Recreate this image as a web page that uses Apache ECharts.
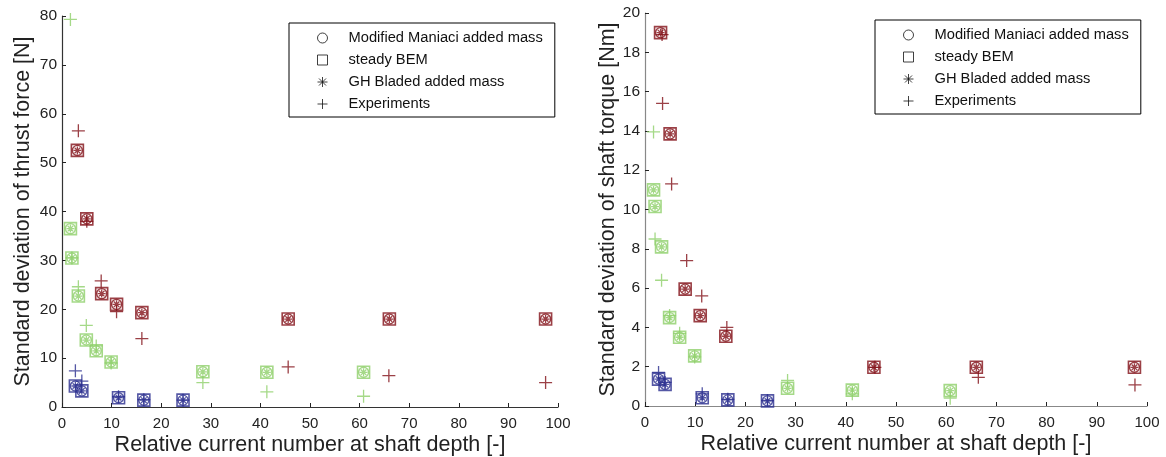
<!DOCTYPE html>
<html>
<head>
<meta charset="utf-8">
<script src="https://cdn.jsdelivr.net/npm/echarts@6/dist/echarts.min.js"></script>
<style>
html,body{margin:0;padding:0;background:#fff;}
#c{width:1166px;height:457px;}
</style>
</head>
<body>
<div id="c"></div>
<script>
// ---------- data ----------
const legendNames = ['Modified Maniaci added mass', 'steady BEM', 'GH Bladed added mass', 'Experiments'];
const xTicks = [0, 10, 20, 30, 40, 50, 60, 70, 80, 90, 100];

// red case group
const redX        = [3.1, 5.0, 8.0, 11.0, 16.1, 45.6, 66.0, 97.5];
const redThrust   = [52.5, 38.5, 23.2, 21.0, 19.3, 18.0, 18.0, 18.0];
const redTorque   = [19.0, 13.85, 5.95, 4.6, 3.55, 1.97, 1.97, 1.97];
const redExpXT    = [3.3, 5.0, 7.9, 11.0, 16.1, 45.6, 65.9, 97.5];
const redExpThrust= [56.5, 38.0, 25.8, 19.5, 14.0, 8.2, 6.4, 5.0];
const redExpXQ    = [3.4, 3.5, 5.3, 8.3, 11.3, 16.3, 45.8, 66.4, 97.6];
const redExpTorque= [18.9, 15.4, 11.3, 7.4, 5.6, 4.0, 1.97, 1.46, 1.07];

// green case group
const greenX        = [1.7, 2.0, 3.3, 4.9, 6.9, 9.9, 28.4, 41.3, 60.8];
const greenThrust   = [36.5, 30.5, 22.7, 13.7, 11.5, 9.2, 7.2, 7.1, 7.1];
const greenTorque   = [11.0, 10.15, 8.1, 4.5, 3.5, 2.55, 0.9, 0.81, 0.78];
const greenExpThrust= [79.3, 30.5, 24.6, 16.7, 12.5, 9.0, 5.0, 3.1, 2.2];
const greenExpTorque= [13.95, 8.5, 6.4, 4.6, 3.7, 2.5, 1.3, 0.62, 0.4];

// blue case group
const blueX        = [2.7, 4.0, 11.4, 16.5, 24.4];
const blueThrust   = [4.3, 3.3, 1.9, 1.4, 1.4];
const blueTorque   = [1.37, 1.1, 0.42, 0.31, 0.26];
const blueExpThrust= [7.4, 5.3, 2.1, 1.5, 1.4];
const blueExpTorque= [1.71, 1.2, 0.62, 0.34, 0.28];

// ---------- styles ----------
const RED = '#821018', GREEN = '#8ed06a', BLUE = '#2b2e8e';
const SYM_PLUS = 'path://M0,6L12,6M6,0L6,12';
const SYM_STAR = 'path://M0,5L10,5M5,0L5,10M1.5,1.5L8.5,8.5M1.5,8.5L8.5,1.5';
const FONT = '"Liberation Sans", Arial, Helvetica, sans-serif';

function zip(xs, ys){ return xs.map((x,i)=>[x, ys[i]]); }

function markerSeries(id, axis, xs, ys, color, kind){
  const conf = {
    circle: {symbol:'circle', size:10, w:1.4},
    square: {symbol:'rect', size:12, w:1.6},
    star:   {symbol:SYM_STAR, size:8, w:1.3},
    plus:   {symbol:SYM_PLUS, size:13, w:1.3}
  }[kind];
  return {
    type:'scatter', name:id, xAxisIndex:axis, yAxisIndex:axis,
    data: zip(xs, ys), symbol: conf.symbol, symbolSize: conf.size,
    itemStyle:{color:'rgba(0,0,0,0)', borderColor:color, borderWidth:conf.w},
    emphasis:{disabled:true}, silent:true, animation:false
  };
}

const series = [];
function group(axis, tag, xs, model, expX, exp, color){
  series.push(markerSeries('sq-'+tag+axis, axis, xs, model, color, 'square'));
  series.push(markerSeries('ci-'+tag+axis, axis, xs, model, color, 'circle'));
  series.push(markerSeries('st-'+tag+axis, axis, xs, model, color, 'star'));
  series.push(markerSeries('pl-'+tag+axis, axis, expX, exp, color, 'plus'));
}
group(0, 'g', greenX, greenThrust, greenX, greenExpThrust, GREEN);
group(0, 'b', blueX, blueThrust, blueX, blueExpThrust, BLUE);
group(0, 'r', redX, redThrust, redExpXT, redExpThrust, RED);
group(1, 'g', greenX, greenTorque, greenX, greenExpTorque, GREEN);
group(1, 'b', blueX, blueTorque, blueX, blueExpTorque, BLUE);
group(1, 'r', redX, redTorque, redExpXQ, redExpTorque, RED);

// legend dummy series (black markers)
const legendSyms = ['circle', 'rect', SYM_STAR, SYM_PLUS];
legendNames.forEach((n,i)=>{
  series.push({type:'scatter', name:n, xAxisIndex:0, yAxisIndex:0, data:[],
    symbol:legendSyms[i], itemStyle:{color:'rgba(0,0,0,0)', borderColor:'#000', borderWidth:1}});
});
const legendData = legendNames.map((n,i)=>({
  name:n, icon:legendSyms[i],
  itemStyle:{color:'rgba(0,0,0,0)', borderColor:'#111', borderWidth:1}
}));

function legend(left, top){
  return {
    data: legendData, orient:'vertical', left:left, top:top,
    itemWidth:10, itemHeight:10, itemGap:6,
    padding:[7, 12, 5, 28],
    borderColor:'#000', borderWidth:1, backgroundColor:'#fff',
    selectedMode:false,
    textStyle:{fontFamily:FONT, fontSize:14.7, color:'#111', lineHeight:16, padding:[0,0,0,16]}
  };
}

function xAxis(grid, lineColor){
  return {
    type:'value', gridIndex:grid, min:0, max:100, interval:10,
    name:'Relative current number at shaft depth [-]', nameLocation:'middle', nameGap:27,
    nameMoveOverlap:false,
    nameTextStyle:{fontFamily:FONT, fontSize:21.5, color:'#222'},
    axisLine:{show:true, lineStyle:{color:lineColor, width:1.2}},
    axisTick:{show:true, inside:true, length:4, lineStyle:{color:'#222'}},
    axisLabel:{fontFamily:FONT, fontSize:15, color:'#222', margin:9},
    splitLine:{show:false}
  };
}
function yAxis(grid, max, interval, name, gap, lineColor){
  return {
    type:'value', gridIndex:grid, min:0, max:max, interval:interval,
    name:name, nameLocation:'middle', nameGap:gap, nameRotate:90,
    nameMoveOverlap:false,
    nameTextStyle:{fontFamily:FONT, fontSize:21.5, color:'#222'},
    axisLine:{show:true, lineStyle:{color:lineColor, width:1.2}},
    axisTick:{show:true, inside:true, length:4, lineStyle:{color:'#222'}},
    axisLabel:{fontFamily:FONT, fontSize:15.5, color:'#222', margin:5},
    splitLine:{show:false}
  };
}

const chart = echarts.init(document.getElementById('c'), null, {renderer:'canvas'});
chart.setOption({
  animation:false,
  backgroundColor:'#fff',
  grid:[
    {left:62, top:16, width:496, height:391, containLabel:false, outerBoundsMode:'none'},
    {left:645, top:13, width:502, height:393, containLabel:false, outerBoundsMode:'none'}
  ],
  xAxis:[xAxis(0, '#333'), xAxis(1, '#888')],
  yAxis:[
    yAxis(0, 80, 10, 'Standard deviation of thrust force [N]', 28, '#333'),
    yAxis(1, 20, 2, 'Standard deviation of shaft torque [Nm]', 26, '#888')
  ],
  legend:[legend(289, 23), legend(875, 20)],
  series: series
});
</script>
</body>
</html>
